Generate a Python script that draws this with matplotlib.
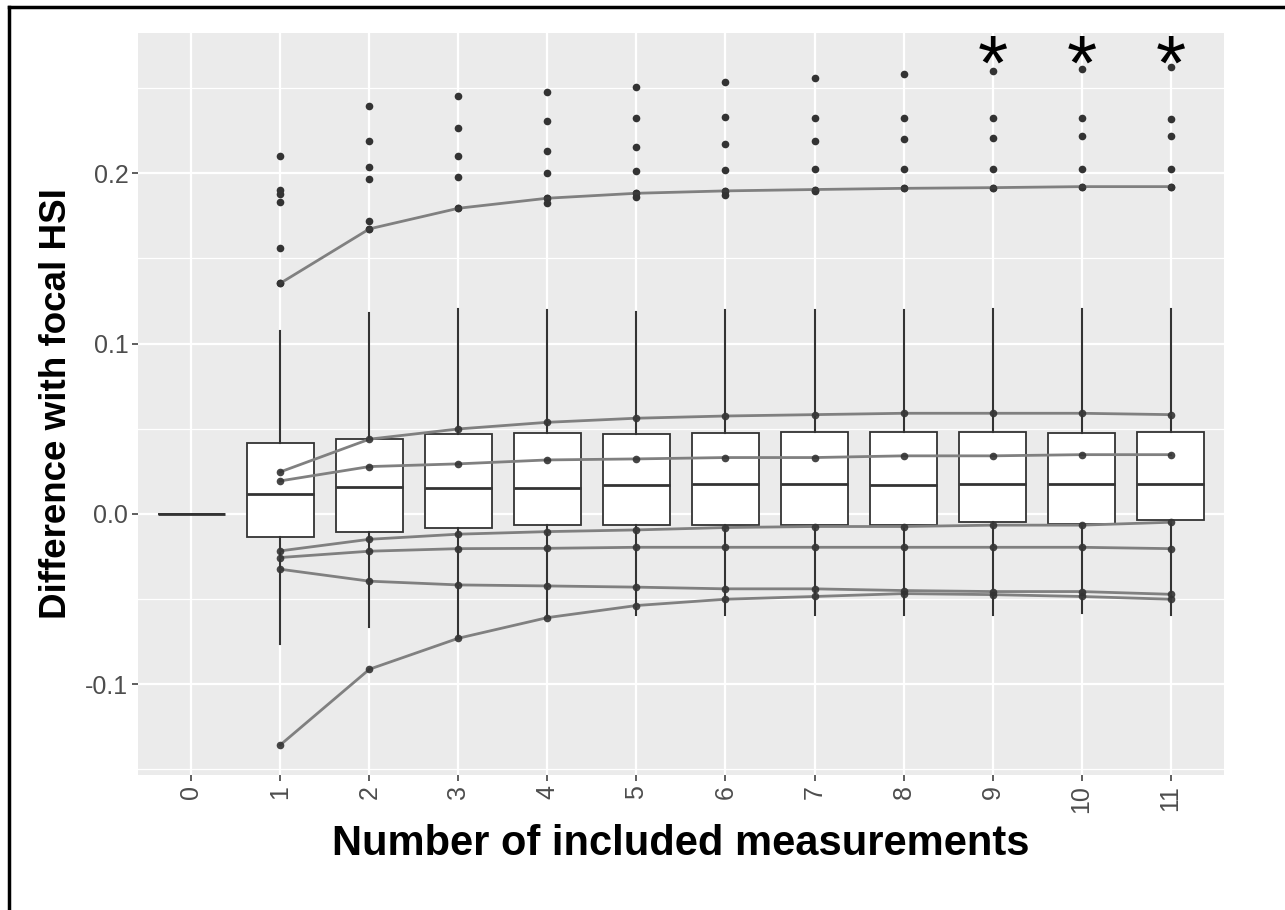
import numpy as np
import matplotlib.pyplot as plt
from matplotlib.lines import Line2D

plt.rcParams['font.family'] = ['Liberation Sans', 'DejaVu Sans']

# categories on the x axis
n_included = list(range(12))
tick_labels = [str(n) for n in n_included]

# boxplot statistics per category
box_med = [0.0, 0.0116, 0.0160, 0.0151, 0.0151, 0.0170, 0.0178, 0.0178, 0.0170, 0.0178, 0.0178, 0.0178]
box_q1 = [0.0, -0.0137, -0.0104, -0.0082, -0.0066, -0.0066, -0.0066, -0.0066, -0.0066, -0.0049, -0.0059, -0.0035]
box_q3 = [0.0, 0.0415, 0.0439, 0.0468, 0.0477, 0.0468, 0.0477, 0.0483, 0.0483, 0.0483, 0.0476, 0.0483]
whisk_lo = [0.0, -0.0763, -0.0666, -0.0730, -0.0609, -0.0593, -0.0593, -0.0593, -0.0593, -0.0593, -0.0583, -0.0593]
whisk_hi = [0.0, 0.1075, 0.1182, 0.1206, 0.1198, 0.1188, 0.1198, 0.1198, 0.1198, 0.1206, 0.1206, 0.1206]

# outliers above the upper whisker
outliers = [
    [],
    [0.2104, 0.1900, 0.1880, 0.1830, 0.1560, 0.1355],
    [0.2394, 0.2188, 0.2036, 0.1967, 0.1722, 0.1674],
    [0.2456, 0.2265, 0.2104, 0.1981, 0.1795],
    [0.2478, 0.2310, 0.2133, 0.2004, 0.1854, 0.1828],
    [0.2509, 0.2325, 0.2157, 0.2012, 0.1883, 0.1860],
    [0.2539, 0.2333, 0.2173, 0.2020, 0.1897, 0.1873],
    [0.2562, 0.2325, 0.2188, 0.2028, 0.1905, 0.1897],
    [0.2586, 0.2325, 0.2202, 0.2028, 0.1912],
    [0.2600, 0.2325, 0.2210, 0.2028, 0.1916],
    [0.2615, 0.2325, 0.2218, 0.2028, 0.1922],
    [0.2623, 0.2317, 0.2218, 0.2028, 0.1922],
]

# individual trajectories, categories 1..11
traj_x = n_included[1:]
trajectories = [
    [0.1355, 0.1674, 0.1795, 0.1854, 0.1883, 0.1897, 0.1905, 0.1912, 0.1916, 0.1922, 0.1922],
    [0.0247, 0.0439, 0.0499, 0.0538, 0.0562, 0.0575, 0.0583, 0.0591, 0.0591, 0.0591, 0.0583],
    [0.0194, 0.0278, 0.0294, 0.0317, 0.0323, 0.0331, 0.0331, 0.0341, 0.0341, 0.0348, 0.0348],
    [-0.0217, -0.0149, -0.0119, -0.0104, -0.0094, -0.0080, -0.0074, -0.0074, -0.0066, -0.0066, -0.0049],
    [-0.0256, -0.0219, -0.0204, -0.0202, -0.0196, -0.0196, -0.0196, -0.0196, -0.0196, -0.0196, -0.0204],
    [-0.0325, -0.0395, -0.0417, -0.0423, -0.0430, -0.0440, -0.0440, -0.0450, -0.0456, -0.0456, -0.0472],
    [-0.1356, -0.0912, -0.0730, -0.0609, -0.0538, -0.0501, -0.0485, -0.0468, -0.0474, -0.0485, -0.0501],
]

star_x = [9, 10, 11]
star_level = 0.271

fig = plt.figure(figsize=(12.85, 9.10), dpi=100)
ax = fig.add_axes([0.1074, 0.1484, 0.8451, 0.8153])
ax.set_facecolor('#EBEBEB')

# grid like ggplot
for v in [-0.15, -0.05, 0.05, 0.15, 0.25]:
    ax.axhline(v, color='white', lw=0.9, zorder=0)
for v in [-0.1, 0.0, 0.1, 0.2]:
    ax.axhline(v, color='white', lw=1.6, zorder=0)
for x in n_included:
    ax.axvline(x, color='white', lw=1.6, zorder=0)

stats = []
for i in range(len(n_included)):
    stats.append(dict(med=box_med[i], q1=box_q1[i], q3=box_q3[i],
                      whislo=whisk_lo[i], whishi=whisk_hi[i], fliers=[]))

ax.bxp(stats, positions=n_included, widths=0.75, patch_artist=True,
       showcaps=False, showfliers=False,
       boxprops=dict(facecolor='white', edgecolor='#333333', lw=1.3),
       medianprops=dict(color='#333333', lw=2.0),
       whiskerprops=dict(color='#333333', lw=1.5),
       zorder=2)

for i, vals in enumerate(outliers):
    ax.plot([n_included[i]] * len(vals), vals, 'o', color='#333333',
            ms=5.5, mec='none', zorder=3)

for tr in trajectories:
    ax.plot(traj_x, tr, '-', color='#808080', lw=2.0, zorder=4)
    ax.plot(traj_x, tr, 'o', color='#333333', ms=5.5, mec='none', alpha=0.9, zorder=5)

for x in star_x:
    ax.annotate('*', (x, star_level), xytext=(0, -27), textcoords='offset points',
                ha='center', va='baseline', fontsize=56, color='black')

ax.set_xlim(-0.6, 11.6)
ax.set_ylim(-0.1533, 0.2824)
ax.set_xticks(n_included)
ax.set_xticklabels(tick_labels, rotation=90)
ax.set_yticks([-0.1, 0.0, 0.1, 0.2])
ax.set_yticklabels(['-0.1', '0.0', '0.1', '0.2'])
ax.tick_params(axis='both', colors='#333333', length=4, width=1.1,
               labelsize=18, labelcolor='#4D4D4D', pad=3)
for s in ax.spines.values():
    s.set_visible(False)

ax.set_xlabel('Number of included measurements', fontsize=30, fontweight='bold', labelpad=8)
ax.set_ylabel('Difference with focal HSI', fontsize=26.5, fontweight='bold', labelpad=8)

# outer frame (top and left edges visible)
fig.add_artist(Line2D([9 / 1285, 9 / 1285], [0, 1 - 7 / 910], color='black', lw=2.5))
fig.add_artist(Line2D([9 / 1285, 1], [1 - 7 / 910, 1 - 7 / 910], color='black', lw=2.5))

fig.savefig('out.png', dpi=100)
